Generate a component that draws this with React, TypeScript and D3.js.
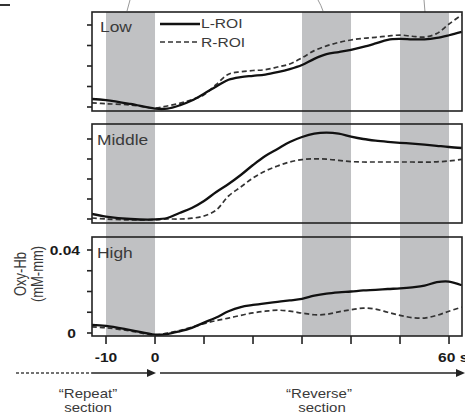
import * as d3 from "d3";

const times = [
  -12.9, -10, -5, 0, 2.5, 5, 7.5, 10, 12.5, 15, 17.5, 20, 22.5, 25, 27.5, 30,
  32.5, 35, 37.5, 40, 42.5, 45, 47.5, 50, 52.5, 55, 57.5, 60, 62.6,
];

const lowL = [
  0.0039, 0.0034, 0.0015, -0.0008, -0.0008, 0.0008, 0.0032, 0.0065, 0.01,
  0.0133, 0.0146, 0.0152, 0.0158, 0.017, 0.0185, 0.0205, 0.0235, 0.0258,
  0.0268, 0.0279, 0.0293, 0.031, 0.0328, 0.0332, 0.033, 0.033, 0.0337, 0.035,
  0.0366,
];
const lowR = [
  0.002, 0.0016, 0.001, -0.0005, 0.0005, 0.0018, 0.0035, 0.006, 0.011, 0.016,
  0.0172, 0.0178, 0.0182, 0.0195, 0.021, 0.024, 0.0275, 0.0298, 0.0315,
  0.0327, 0.0335, 0.034, 0.0346, 0.0351, 0.0345, 0.0341, 0.0358, 0.0405,
  0.0449,
];
const midL = [
  0.0025, 0.0012, 0.0, -0.0002, 0.0005, 0.003, 0.0055, 0.009, 0.0135, 0.0175,
  0.022, 0.027, 0.0315, 0.035, 0.0385, 0.041, 0.0427, 0.0432, 0.0427, 0.0412,
  0.04, 0.0392, 0.0386, 0.0381, 0.0377, 0.0372, 0.0366, 0.036, 0.0355,
];
const midR = [
  0.0005, 0.0, -0.0005, -0.0003, 0.0, 0.0, 0.0004, 0.0015, 0.0045, 0.0115,
  0.016, 0.0205, 0.024, 0.0265, 0.0285, 0.0297, 0.0301, 0.0299, 0.0293,
  0.0287, 0.0285, 0.0285, 0.0285, 0.0285, 0.0285, 0.0284, 0.0286, 0.029,
  0.0298,
];
const highL = [
  0.0039, 0.0034, 0.0014, -0.0008, -0.0005, 0.0008, 0.0025, 0.005, 0.0075,
  0.0105, 0.0125, 0.0135, 0.0143, 0.015, 0.0157, 0.0165, 0.018, 0.019, 0.0196,
  0.02, 0.0205, 0.0208, 0.0212, 0.0215, 0.022, 0.0228, 0.0245, 0.0248, 0.023,
];
const highR = [
  0.003, 0.0025, 0.001, -0.001, 0.0, 0.0012, 0.0028, 0.0045, 0.006, 0.0072,
  0.0085, 0.0097, 0.0105, 0.011, 0.0105, 0.0096, 0.0088, 0.009, 0.0102,
  0.0112, 0.012, 0.0115, 0.01, 0.0085, 0.0074, 0.0072, 0.0085, 0.0105,
  0.0125,
];

const panelNames = ["Low", "Middle", "High"];
const bands = [
  [-10, 0],
  [30, 40],
  [50, 60],
];
const yTicks = [0, 0.01, 0.02, 0.03, 0.04];
const xTicks = [-10, 0, 10, 20, 30, 40, 50, 60];
const xTickLabels: Record<number, string> = { [-10]: "-10", 0: "0", 60: "60 s" };

const W = 465;
const H = 413;
const FONT = "'Liberation Sans', Arial, sans-serif";
const SX = 1.2; // source image is stretched horizontally

const x = d3.scaleLinear().domain([-12.86, 62.65]).range([92, 462]);

const panels = [
  { top: 12, bottom: 111, zero: 107, top4: 25, L: lowL, R: lowR },
  { top: 124, bottom: 223, zero: 219, top4: 139, L: midL, R: midR },
  { top: 237, bottom: 336, zero: 333, top4: 250, L: highL, R: highR },
];

function T({
  x: tx,
  y: ty,
  size,
  anchor = "start",
  bold = false,
  rotate = 0,
  children,
}: {
  x: number;
  y: number;
  size: number;
  anchor?: string;
  bold?: boolean;
  rotate?: number;
  children: any;
}) {
  return (
    <text
      transform={`translate(${tx},${ty}) scale(${SX},1) rotate(${rotate})`}
      fontSize={size}
      fontFamily={FONT}
      fontWeight={bold ? 700 : 400}
      textAnchor={anchor as any}
      fill={bold ? "#1a1a1a" : "#3a3a3a"}
    >
      {children}
    </text>
  );
}

export default function App() {
  const first = panels[0];
  const last = panels[panels.length - 1];
  const arrowY = 373;

  return (
    <svg
      width={W}
      height={H}
      style={{ position: "absolute", left: 0, top: 0, background: "#fff" }}
    >
      {/* clipping remnants of the original figure */}
      <line x1={0} y1={5} x2={10} y2={5} stroke="#333" strokeWidth={2} />
      <line x1={130} y1={0} x2={127} y2={11} stroke="#999" strokeWidth={1} />
      <path d="M318,0 Q321,5 323,11" stroke="#999" fill="none" />
      <line x1={424} y1={0} x2={425} y2={12} stroke="#999" strokeWidth={1} />

      {bands.map(([a, b], i) => (
        <rect
          key={i}
          x={x(a)}
          y={first.top}
          width={x(b) - x(a)}
          height={last.bottom - first.top}
          fill="#c0c1c3"
        />
      ))}

      {panels.map((p, i) => {
        const y = d3.scaleLinear().domain([0, 0.04]).range([p.zero, p.top4]);
        const line = d3
          .line<number>()
          .x((_, j) => x(times[j]))
          .y((d) => y(d))
          .curve(d3.curveCatmullRom);
        return (
          <g key={i}>
            <defs>
              <clipPath id={`clip${i}`}>
                <rect x={92} y={p.top} width={370} height={p.bottom - p.top} />
              </clipPath>
            </defs>
            <g clipPath={`url(#clip${i})`}>
              <path
                d={line(p.R) || ""}
                fill="none"
                stroke="#333"
                strokeWidth={1.7}
                strokeDasharray="5 3"
              />
              <path d={line(p.L) || ""} fill="none" stroke="#111" strokeWidth={2.3} />
            </g>
            <rect
              x={92}
              y={p.top}
              width={370}
              height={p.bottom - p.top}
              fill="none"
              stroke="#222"
              strokeWidth={1.6}
            />
            {yTicks.map((t) => (
              <line
                key={t}
                x1={87}
                x2={92}
                y1={y(t)}
                y2={y(t)}
                stroke="#222"
                strokeWidth={1.6}
              />
            ))}
            <T x={i === 0 ? 100 : 97} y={p.top + (i === 0 ? 20 : 21)} size={14.5}>
              {panelNames[i]}
            </T>
            {i === 2 && (
              <>
                <T x={80} y={y(0.04) + 5} size={13} anchor="end" bold>
                  0.04
                </T>
                <T x={76} y={y(0) + 5} size={13} anchor="end" bold>
                  0
                </T>
              </>
            )}
          </g>
        );
      })}

      {/* legend */}
      <line x1={160} x2={200} y1={24} y2={24} stroke="#111" strokeWidth={2.3} />
      <T x={201} y={28} size={13}>
        L-ROI
      </T>
      <line
        x1={160}
        x2={200}
        y1={42}
        y2={42}
        stroke="#333"
        strokeWidth={1.7}
        strokeDasharray="5 3"
      />
      <T x={201} y={47} size={13}>
        R-ROI
      </T>

      {/* x axis ticks */}
      {xTicks.map((t) => (
        <g key={t}>
          <line
            x1={x(t)}
            x2={x(t)}
            y1={last.bottom}
            y2={last.bottom + 8}
            stroke="#222"
            strokeWidth={1.6}
          />
          {xTickLabels[t] && (
            <T
              x={t === 60 ? x(t) - 11 : x(t)}
              y={362}
              size={13}
              anchor={t === 60 ? "start" : "middle"}
              bold
            >
              {xTickLabels[t]}
            </T>
          )}
        </g>
      ))}

      {/* y label */}
      <T x={26} y={274} size={13} anchor="middle" rotate={-90}>
        Oxy-Hb
      </T>
      <T x={43} y={274} size={13} anchor="middle" rotate={-90}>
        (mM-mm)
      </T>

      {/* section arrows */}
      <line
        x1={16}
        x2={92}
        y1={arrowY}
        y2={arrowY}
        stroke="#444"
        strokeWidth={1.6}
        strokeDasharray="3 2"
      />
      <line x1={92} x2={150} y1={arrowY} y2={arrowY} stroke="#222" strokeWidth={1.6} />
      <path
        d={`M${x(0) + 1},${arrowY} L${x(0) - 8},${arrowY - 4} L${x(0) - 8},${arrowY + 4} Z`}
        fill="#222"
      />
      <line x1={160} x2={458} y1={arrowY} y2={arrowY} stroke="#222" strokeWidth={1.6} />
      <path
        d={`M465,${arrowY} L456,${arrowY - 4} L456,${arrowY + 4} Z`}
        fill="#222"
      />

      <T x={88} y={398} size={12.5} anchor="middle">
        {"\u201CRepeat\u201D"}
      </T>
      <T x={88} y={412} size={12.5} anchor="middle">
        section
      </T>
      <T x={319} y={398} size={12.5} anchor="middle">
        {"\u201CReverse\u201D"}
      </T>
      <T x={322} y={412} size={12.5} anchor="middle">
        section
      </T>
    </svg>
  );
}
